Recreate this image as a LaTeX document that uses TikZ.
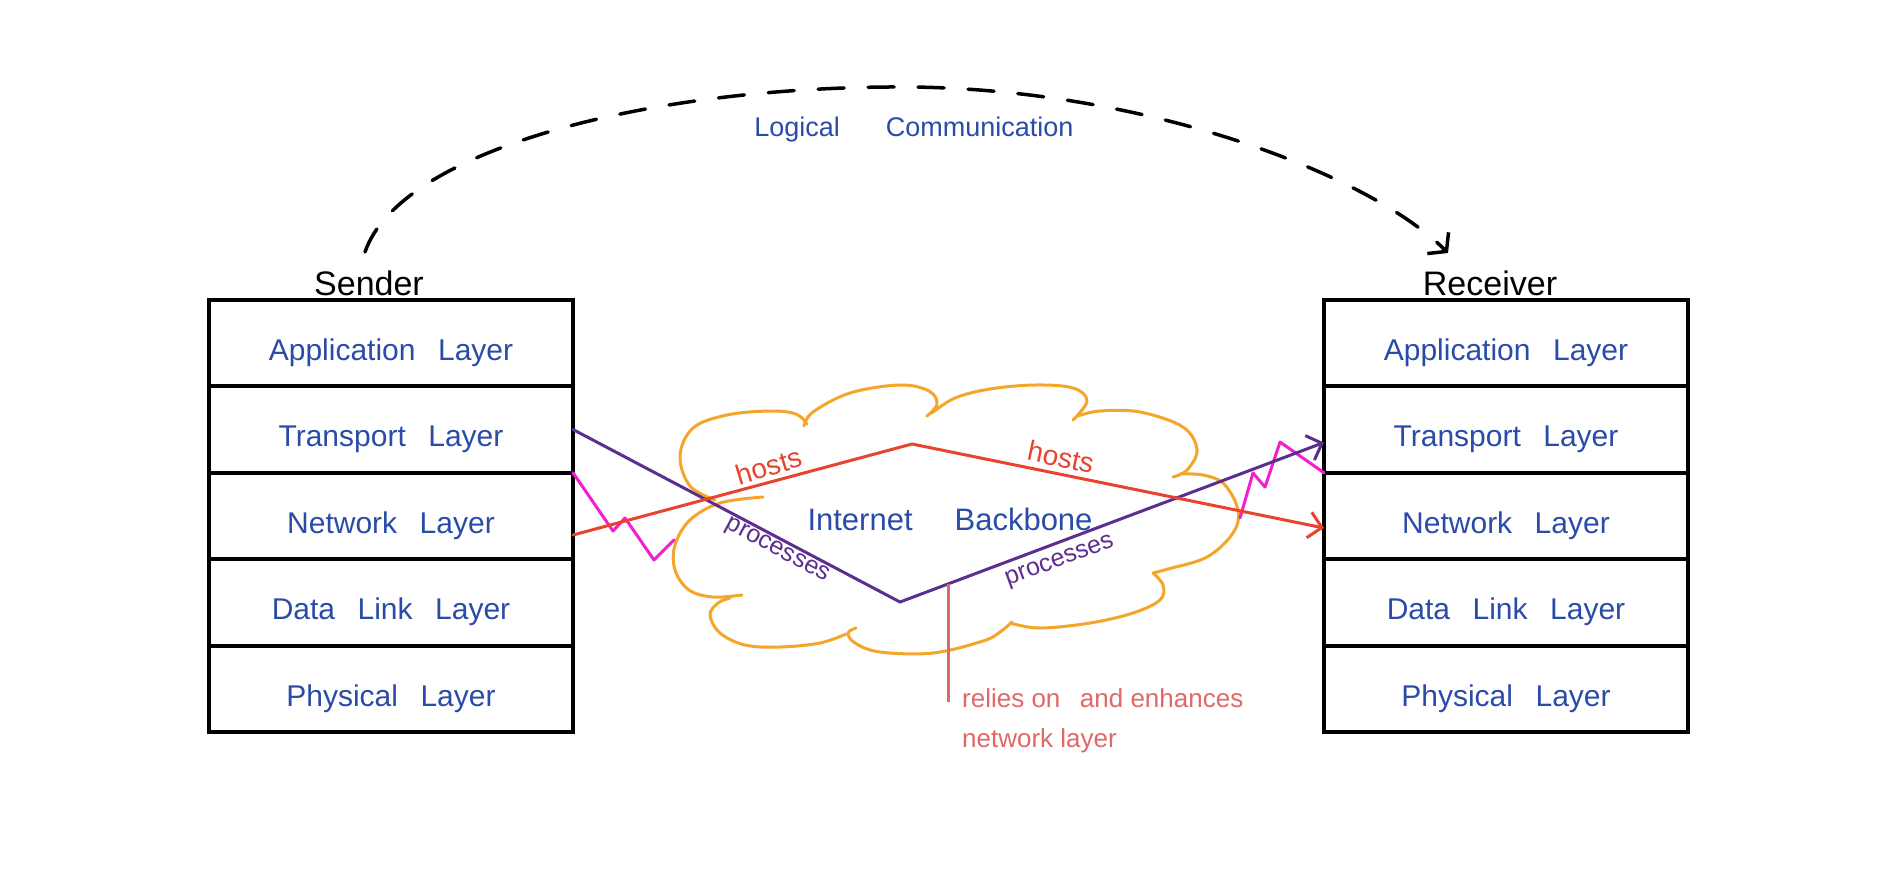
\documentclass[tikz,border=0pt]{standalone}
\usepackage{fontspec}
\setmainfont{Liberation Sans}
\usetikzlibrary{arrows.meta}
\definecolor{inkblue}{HTML}{2A4CA8}
\definecolor{inkred}{HTML}{E8432E}
\definecolor{inkpurple}{HTML}{5B2E90}
\definecolor{inkpink}{HTML}{F21FD0}
\definecolor{inkorange}{HTML}{F4A62A}
\definecolor{inksalmon}{HTML}{E06868}
\newcommand{\wsp}{\hspace{0.75em}}
\begin{document}
\begin{tikzpicture}[x=1pt,y=-1pt,
  layerbox/.style={draw=black, line width=4pt, minimum width=364pt, minimum height=86.6pt,
    inner sep=0pt, outer sep=0pt, text=inkblue, font=\fontsize{30}{30}\selectfont,
    text height=34pt, text depth=0pt},
  hostlabel/.style={font=\fontsize{34}{34}\selectfont, text=black, anchor=base, inner sep=0pt},
  cloudline/.style={draw=inkorange, line width=3pt, line cap=round, line join=round},
  inkline/.style={line width=3pt, line cap=round, line join=round},
  barb/.style={-{Straight Barb[length=13pt,width=26pt]}},
  redtext/.style={text=inkred, font=\fontsize{28}{28}\selectfont, inner sep=0pt},
  purptext/.style={text=inkpurple, font=\fontsize{25}{25}\selectfont, inner sep=0pt},
  bluetext/.style={text=inkblue, inner sep=0pt}
]
\fill[white] (0,0) rectangle (1886,881);
\useasboundingbox (0,0) rectangle (1886,881);

% sender stack
\node[layerbox] (s1) at (391,343)   {Application\wsp Layer};
\node[layerbox] (s2) at (391,429.5) {Transport\wsp Layer};
\node[layerbox] (s3) at (391,516)   {Network\wsp Layer};
\node[layerbox] (s4) at (391,602.5) {Data\wsp Link\wsp Layer};
\node[layerbox] (s5) at (391,689)   {Physical\wsp Layer};
% receiver stack
\node[layerbox] (r1) at (1506,343)   {Application\wsp Layer};
\node[layerbox] (r2) at (1506,429.5) {Transport\wsp Layer};
\node[layerbox] (r3) at (1506,516)   {Network\wsp Layer};
\node[layerbox] (r4) at (1506,602.5) {Data\wsp Link\wsp Layer};
\node[layerbox] (r5) at (1506,689)   {Physical\wsp Layer};

\node[hostlabel] (snd) at (369,295) {Sender};
\node[hostlabel] (rcv) at (1490,295) {Receiver};

% logical communication arc
\coordinate (arcS) at (365,252);
\coordinate (arcE) at (1448,253);
\draw[line width=3.5pt, line cap=round, dash pattern=on 26pt off 24pt,
  -{Straight Barb[length=12pt,width=30pt]}]
  (arcS) .. controls (400,150) and (650,85) .. (912,87)
         .. controls (1150,90) and (1370,175) .. (arcE);
\node[bluetext, font=\fontsize{27}{27}\selectfont] (logic) at (914,130) {Logical\hspace{46pt}Communication};

% cloud
\draw[cloudline] plot[smooth, tension=0.6] coordinates {(715,500) (690,486) (680,456) (693,428) (727,415) (770,411) (796,414) (807,424)};
\draw[cloudline] plot[smooth, tension=0.6] coordinates {(804,426) (813,412) (850,393) (900,385) (929,391) (937,404) (927,416)};
\draw[cloudline] plot[smooth, tension=0.6] coordinates {(932,413) (955,398) (990,389) (1035,385) (1073,388) (1087,401) (1073,420)};
\draw[cloudline] plot[smooth, tension=0.6] coordinates {(1078,416) (1100,411) (1140,412) (1183,427) (1197,450) (1187,470) (1173,477)};
\draw[cloudline] plot[smooth, tension=0.6] coordinates {(1180,474) (1203,475) (1224,484) (1238,510) (1233,533) (1207,557) (1168,569) (1153,573)};
\draw[cloudline] plot[smooth, tension=0.6] coordinates {(1153,573) (1163,585) (1160,600) (1133,613) (1090,623) (1040,628) (1010,623)};
\draw[cloudline] plot[smooth, tension=0.6] coordinates {(1012,622) (1000,632) (983,641) (933,653) (880,652) (855,643) (848,633) (856,628)};
\draw[cloudline] plot[smooth, tension=0.6] coordinates {(846,634) (820,643) (780,647) (745,645) (720,633) (710,615) (718,603) (730,598)};
\draw[cloudline] plot[smooth, tension=0.6] coordinates {(742,595) (713,597) (689,590) (675,570) (675,545) (690,520) (720,503) (763,497)};

\node[bluetext, font=\fontsize{31}{31}\selectfont] (ib) at (950,519) {Internet\hspace{42pt}Backbone};

% zigzags
\draw[inkline, inkpink] (s2.south east) -- (613,531) -- (625,518) -- (654,560) -- (674,540);
\coordinate (zR) at (1240,518);
\draw[inkline, inkpink] (zR) -- (1253,473) -- (1265,487) -- (1280,442) -- (r2.south west);

% processes path (purple)
\coordinate (pV) at (900,602);
\coordinate (pE) at ([yshift=-13pt]r2.west);
\draw[inkline, inkpurple, barb] (s2.east) -- (pV) -- (pE);

% hosts path (red)
\coordinate (hS) at ([yshift=-19pt]s3.east);
\coordinate (hA) at (912,444);
\coordinate (hE) at ([yshift=-12pt]r3.west);
\draw[inkline, inkred, barb] (hS) -- (hA) -- (hE);

\node[redtext, rotate=17] (h1) at (769,466) {hosts};
\node[redtext, rotate=-12] (h2) at (1061,457) {hosts};
\node[purptext, rotate=-28] (p1) at (777,551) {processes};
\node[purptext, rotate=20] (p2) at (1060,562) {processes};

% annotation
\coordinate (tap) at (948,584);
\coordinate (tapE) at (948,702);
\draw[line width=3pt, inksalmon] (tap) -- (tapE);
\node[anchor=north west, inner sep=0pt, align=left, text=inksalmon,
  font=\fontsize{26}{40}\selectfont] (note) at (962,688)
  {relies on\wsp and enhances\\network layer};
\end{tikzpicture}
\end{document}
